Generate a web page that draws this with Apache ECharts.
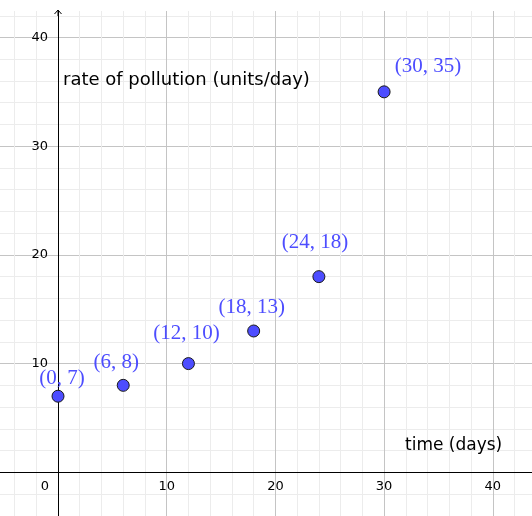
<!DOCTYPE html>
<html>
<head>
<meta charset="utf-8">
<script src="https://cdn.jsdelivr.net/npm/echarts@6/dist/echarts.min.js"></script>
<style>
html,body{margin:0;padding:0;background:#fff;}
#chart{width:532px;height:516px;}
</style>
</head>
<body>
<div id="chart"></div>
<script>
// Data
var timeDays = [0, 6, 12, 18, 24, 30];
var pollutionRate = [7, 8, 10, 13, 18, 35];
var xTickLabels = ['0', '10', '20', '30', '40'];
var yTickLabels = ['10', '20', '30', '40'];
var xAxisTitle = 'time (days)';
var yAxisTitle = 'rate of pollution (units/day)';

// layout (pixels per unit & origin position)
var K = 10.87, OX = 58, OY = 472.3, W = 532, H = 516;
var XMIN = -10, XMAX = 50, YMIN = -10, YMAX = 50;
var labelOffsets = [[4, -18], [-7, -23], [-2, -30.5], [-2, -23.5], [-4, -34], [44, -25]];

var pts = timeDays.map(function (t, i) {
  return {
    value: [t, pollutionRate[i]],
    label: { offset: labelOffsets[i] }
  };
});

var chart = echarts.init(document.getElementById('chart'), null, { renderer: 'canvas' });
chart.setOption({
  animation: false,
  backgroundColor: '#ffffff',
  grid: {
    left: OX + XMIN * K,
    right: W - (OX + XMAX * K),
    top: OY - YMAX * K,
    bottom: H - (OY - YMIN * K),
    containLabel: false,
    outerBoundsMode: 'none'
  },
  xAxis: {
    type: 'value', min: XMIN, max: XMAX, interval: 10,
    position: 'bottom',
    offset: YMIN * K,
    axisLine: { onZero: false, lineStyle: { color: '#000', width: 1 } },
    axisTick: { show: false },
    axisLabel: {
      margin: 8, color: '#000', fontSize: 13, fontFamily: 'DejaVu Sans',
      formatter: function (v) {
        if (v === 0) return '{z|' + xTickLabels[0] + '}';
        var i = xTickLabels.indexOf(String(v));
        return i >= 0 ? xTickLabels[i] : '';
      },
      rich: { z: { padding: [0, 26, 0, 0], fontSize: 13, fontFamily: 'DejaVu Sans', color: '#000' } }
    },
    splitLine: { show: true, lineStyle: { color: '#c4c4c4', width: 1 } },
    minorTick: { show: false, splitNumber: 5 },
    minorSplitLine: { show: true, lineStyle: { color: '#ececec', width: 1 } }
  },
  yAxis: {
    type: 'value', min: YMIN, max: YMAX, interval: 10,
    position: 'left',
    offset: XMIN * K,
    axisLine: { onZero: false, lineStyle: { color: '#000', width: 1 } },
    axisTick: { show: false },
    axisLabel: {
      margin: 10, color: '#000', fontSize: 13, fontFamily: 'DejaVu Sans',
      formatter: function (v) {
        var i = yTickLabels.indexOf(String(v));
        return i >= 0 ? yTickLabels[i] : '';
      }
    },
    splitLine: { show: true, lineStyle: { color: '#c4c4c4', width: 1 } },
    minorTick: { show: false, splitNumber: 5 },
    minorSplitLine: { show: true, lineStyle: { color: '#ececec', width: 1 } }
  },
  series: [{
    type: 'scatter',
    data: pts,
    symbol: 'circle',
    symbolSize: 12,
    itemStyle: { color: '#4d4dff', borderColor: '#1a1a1a', borderWidth: 1, opacity: 1 },
    label: {
      show: true,
      position: 'inside',
      color: '#4d4dff',
      fontFamily: 'Liberation Serif',
      fontSize: 21,
      formatter: function (p) { return '(' + p.value[0] + ', ' + p.value[1] + ')'; }
    },
    z: 5
  }],
  graphic: [
    { type: 'rect', z: 100, shape: { x: 0, y: 0, width: W, height: 11 }, style: { fill: '#fff' } },
    { type: 'polyline', z: 101, shape: { points: [[54.5, 14], [58, 10], [61.5, 14]] }, style: { stroke: '#000', lineWidth: 1, fill: null } },
    { type: 'rect', z: 100, shape: { x: 57.5, y: 10, width: 1, height: 6 }, style: { fill: '#000' } },
    { type: 'text', z: 100, left: 63, top: 71, style: { text: yAxisTitle, font: '18px "DejaVu Sans"', fill: '#000' } },
    { type: 'text', z: 100, left: 405, top: 437, style: { text: xAxisTitle, font: '17px "DejaVu Sans"', fill: '#000' } }
  ]
});
</script>
</body>
</html>
